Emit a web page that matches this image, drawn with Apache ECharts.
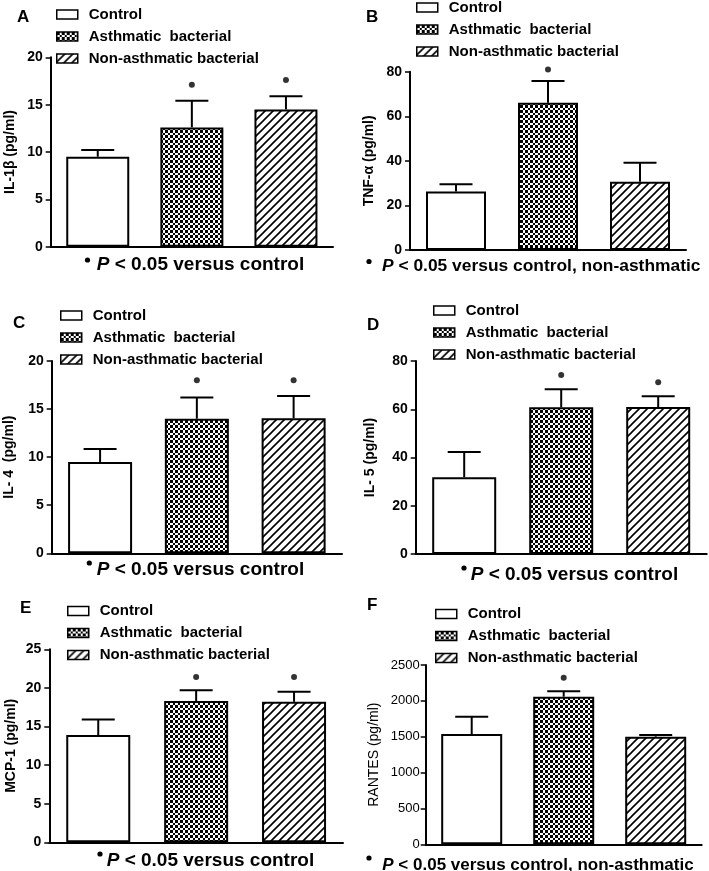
<!DOCTYPE html>
<html><head><meta charset="utf-8">
<script src="https://cdn.jsdelivr.net/npm/echarts@6/dist/echarts.min.js"></script>
<style>html,body{margin:0;padding:0;background:#fff}#c{width:709px;height:871px}</style>
</head><body><div id="c"></div>
<script>
// ---------- data ----------
const categories = ['Control', 'Asthmatic bacterial', 'Non-asthmatic bacterial'];
const panelLetters = ['A', 'B', 'C', 'D', 'E', 'F'];
const yNames = ['IL-1\u03b2 (pg/ml)', 'TNF-\u03b1 (pg/ml)', 'IL- 4  (pg/ml)', 'IL- 5 (pg/ml)', 'MCP-1 (pg/ml)', 'RANTES (pg/ml)'];
const yMax = [20, 80, 20, 80, 25, 2500];
const yStep = [5, 20, 5, 20, 5, 500];
const meanA = [9.5, 12.6, 14.5],   errA = [10.2, 15.4, 15.9],   sigA = [null, 17.1, 17.6];
const meanB = [26.2, 66.1, 30.6],  errB = [29.5, 75.8, 39.2],   sigB = [null, 81, null];
const meanC = [9.5, 14.0, 14.05],  errC = [10.85, 16.2, 16.35], sigC = [null, 18.0, 18.0];
const meanD = [31.8, 60.8, 60.9],  errD = [42.3, 68.3, 65.4],   sigD = [null, 74.2, 71.2];
const meanE = [13.9, 18.3, 18.2],  errE = [15.9, 19.7, 19.5],   sigE = [null, 21.4, 21.4];
const meanF = [1538, 2058, 1500],  errF = [1779, 2133, 1524],   sigF = [null, 2323, null];
const footnotes = [
  ' < 0.05 versus control',
  ' < 0.05 versus control, non-asthmatic',
  ' < 0.05 versus control',
  ' < 0.05 versus control',
  ' < 0.05 versus control',
  ' < 0.05 versus control, non-asthmatic'
];
const means = [meanA, meanB, meanC, meanD, meanE, meanF];
const errs = [errA, errB, errC, errD, errE, errF];
const sigs = [sigA, sigB, sigC, sigD, sigE, sigF];

// ---------- layout (positions / styles only) ----------
const FONT = '"Liberation Sans", Arial, Helvetica, sans-serif';
const grids = [
  {left: 50.7, top: 57.3, width: 282.3, height: 189.4},
  {left: 410,  top: 71.7, width: 276,   height: 178.3},
  {left: 51.7, top: 361,  width: 290.3, height: 192.3},
  {left: 415.7,top: 361,  width: 291,   height: 193},
  {left: 49.3, top: 649.3,width: 293.7, height: 193},
  {left: 425.7,top: 665,  width: 276,   height: 179.3}
];
const barW = [63, 60, 64, 64, 64, 61];
const nameGaps = [34, 34, 36, 39, 31, 45];
const legendPos = [[56, 14.5], [416, 7.5], [60, 315.5], [433, 310.5], [67, 611], [435, 614]];
const letterPos = [[17, 17], [366, 17], [13, 323], [367, 325], [20, 608], [367, 605]];
const footPos = [ // dotX, dotY, textX, textY, fontSize
  [87.5, 260, 96.7, 265, 19],
  [369, 261.5, 382, 266.5, 17.4],
  [89.3, 563, 96.7, 570, 19],
  [464, 568, 470.7, 575, 19],
  [100, 854, 106.7, 860.5, 19],
  [369, 858, 382.3, 865, 17]
];

function checker() {
  const c = document.createElement('canvas'); c.width = c.height = 10;
  const g = c.getContext('2d');
  g.fillStyle = '#fff'; g.fillRect(0, 0, 10, 10);
  g.fillStyle = '#000';
  const b = [0, 3, 5, 8, 10];
  for (let i = 0; i < 4; i++) for (let j = 0; j < 4; j++) {
    if ((i + j) % 2 === 0) g.fillRect(b[i], b[j], b[i + 1] - b[i], b[j + 1] - b[j]);
  }
  return c;
}
function hatch() {
  const s = 8; const c = document.createElement('canvas'); c.width = c.height = s;
  const g = c.getContext('2d');
  g.fillStyle = '#fff'; g.fillRect(0, 0, s, s);
  g.strokeStyle = '#000'; g.lineWidth = 1.6; g.beginPath();
  g.moveTo(-1, s + 1); g.lineTo(s + 1, -1);
  g.moveTo(-1, 1); g.lineTo(1, -1);
  g.moveTo(s - 1, s + 1); g.lineTo(s + 1, s - 1);
  g.stroke();
  return c;
}
const fills = ['#ffffff', {image: checker(), repeat: 'repeat'}, {image: hatch(), repeat: 'repeat'}];

const option = {
  animation: false,
  backgroundColor: '#fff',
  grid: [], xAxis: [], yAxis: [], series: [], legend: [], graphic: []
};

for (let p = 0; p < 6; p++) {
  option.grid.push(Object.assign({containLabel: false}, grids[p]));
  option.xAxis.push({
    type: 'category', gridIndex: p, data: categories,
    axisLine: {show: true, lineStyle: {color: '#000', width: 2}},
    axisTick: {show: false}, axisLabel: {show: false}, splitLine: {show: false}
  });
  const bold = p !== 5;
  option.yAxis.push({
    type: 'value', gridIndex: p, min: 0, max: yMax[p], interval: yStep[p],
    name: yNames[p], nameLocation: 'middle', nameGap: nameGaps[p],
    nameTextStyle: {fontFamily: FONT, fontSize: 14, fontWeight: bold ? 'bold' : 'normal', color: '#000'},
    axisLine: {show: true, lineStyle: {color: '#000', width: 2}},
    axisTick: {show: true, length: 5, lineStyle: {color: '#000', width: 1.5}},
    axisLabel: {fontFamily: FONT, fontSize: bold ? 14 : 13, fontWeight: bold ? 'bold' : 'normal', color: '#000', margin: bold ? 8 : 6,
      formatter: v => String(v)},
    splitLine: {show: false}
  });
  for (let k = 0; k < 3; k++) {
    option.series.push({
      type: 'bar', name: categories[k], xAxisIndex: p, yAxisIndex: p, stack: 'p' + p,
      barWidth: barW[p],
      itemStyle: {color: fills[k], borderColor: '#000', borderWidth: 2},
      data: categories.map((c, i) => i === k ? means[p][i] : '-'),
      z: 2
    });
  }
  option.series.push({
    type: 'custom', name: 'err' + p, xAxisIndex: p, yAxisIndex: p, z: 3,
    data: categories.map((c, i) => [i, means[p][i], errs[p][i]]),
    encode: {x: 0, y: [1, 2]},
    renderItem: function (params, api) {
      const x = api.value(0);
      const base = api.coord([x, api.value(1)]);
      const top = api.coord([x, api.value(2)]);
      const half = 16.5;
      return {type: 'group', children: [
        {type: 'line', shape: {x1: top[0], y1: base[1], x2: top[0], y2: top[1]}, style: {stroke: '#000', lineWidth: 2}},
        {type: 'line', shape: {x1: top[0] - half, y1: top[1], x2: top[0] + half, y2: top[1]}, style: {stroke: '#000', lineWidth: 2}}
      ]};
    }
  });
  option.series.push({
    type: 'scatter', name: 'sig' + p, xAxisIndex: p, yAxisIndex: p, clip: false,
    symbol: 'circle', symbolSize: 6, itemStyle: {color: '#000'}, z: 4,
    data: sigs[p].map((v, i) => v === null ? null : [i, v]).filter(d => d)
  });
  option.legend.push({
    orient: 'vertical', left: legendPos[p][0], top: legendPos[p][1] - 7.5, padding: 0,
    itemWidth: 21, itemHeight: 9, itemGap: 7, icon: 'rect', selectedMode: false,
    data: categories,
    formatter: n => n === 'Asthmatic bacterial' ? 'Asthmatic  bacterial' : n,
    itemStyle: {borderColor: '#000', borderWidth: 1.5},
    textStyle: {fontFamily: FONT, fontSize: 15, fontWeight: 'bold', color: '#000', padding: [0, 0, 0, 6]}
  });
  option.graphic.push({
    type: 'text', x: letterPos[p][0], y: letterPos[p][1],
    style: {text: panelLetters[p], font: 'bold 17px ' + FONT, fill: '#000', verticalAlign: 'middle'}
  });
  const f = footPos[p];
  option.graphic.push({type: 'circle', shape: {cx: f[0], cy: f[1], r: 2.6}, style: {fill: '#000'}});
  option.graphic.push({
    type: 'text', x: f[2], y: f[3],
    style: {
      text: '{p|P}' + footnotes[p],
      rich: {p: {fontStyle: 'italic', fontWeight: 'bold', fontSize: f[4], fontFamily: FONT}},
      font: 'bold ' + f[4] + 'px ' + FONT, fill: '#000', verticalAlign: 'middle'
    }
  });
}

const chart = echarts.init(document.getElementById('c'), null, {renderer: 'canvas'});
chart.setOption(option);
</script>
</body></html>
